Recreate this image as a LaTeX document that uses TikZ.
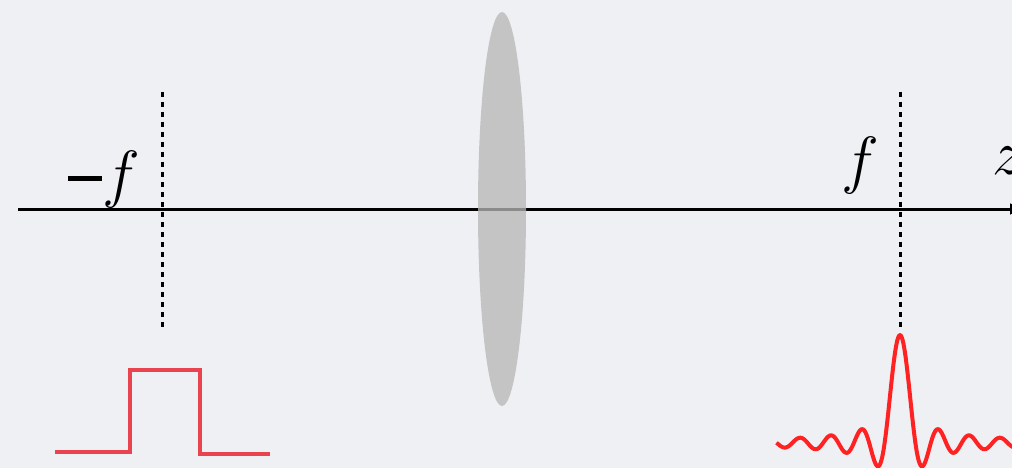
\documentclass[tikz,border=0pt]{standalone}
\usepackage{graphicx}
\usetikzlibrary{arrows.meta,shapes.geometric}
\definecolor{bg}{HTML}{EEF0F3}
\definecolor{lensgray}{HTML}{B7B7B7}
\definecolor{pulsered}{HTML}{E8434E}
\definecolor{sincred}{HTML}{FF2222}
\newcommand{\biglab}[1]{\scalebox{2.57}{\Huge$#1$}}
\tikzset{
  axisline/.style={line width=3pt, -{Latex[length=14pt,width=12pt]}},
  focalline/.style={line width=3pt, dash pattern=on 5pt off 5pt},
  lensshape/.style={ellipse, fill=lensgray, fill opacity=0.76, draw=none, inner sep=0pt, minimum width=48pt, minimum height=394pt},
  biglabel/.style={inner sep=0pt},
  pulseline/.style={line width=4pt, draw=pulsered, line join=miter},
  sincline/.style={line width=4pt, draw=sincred, line join=round},
}
\begin{document}
\begin{tikzpicture}[x=1pt,y=-1pt]
\fill[bg] (0,0) rectangle (1012,468);
\useasboundingbox (0,0) rectangle (1012,468);
% axis
\coordinate (axL) at (18,209);
\coordinate (axR) at (1024,209);
\draw[axisline] (axL) -- (axR);
% focal lines
\coordinate (fl1) at (162,92);
\coordinate (fl2) at (162,330);
\coordinate (fr1) at (900,92);
\coordinate (fr2) at (900,330);
\draw[focalline] (fl1) -- (fl2);
\draw[focalline] (fr1) -- (fr2);
% lens
\node[lensshape] (lens) at (502,209) {};
% labels
\node[biglabel, anchor=base west] (mf) at (68,195) {\rule[14pt]{34pt}{5.5pt}\hspace{0pt}\biglab{f}};
\node[biglabel, anchor=base] (pf) at (860,181) {\biglab{f}};
\node[biglabel, anchor=base west] (z) at (992,175) {\biglab{z}};
% rect pulse
\draw[pulseline] (55,452) -- (130,452) -- (130,370) -- (200,370) -- (200,454) -- (270,454);
% sinc
\draw[sincline, domain=776.5:1015.5, samples=240, smooth] plot (\x, {443 - 108*sin(deg((\x-900)/4.9))/((\x-900)/4.9)});
\end{tikzpicture}
\end{document}
